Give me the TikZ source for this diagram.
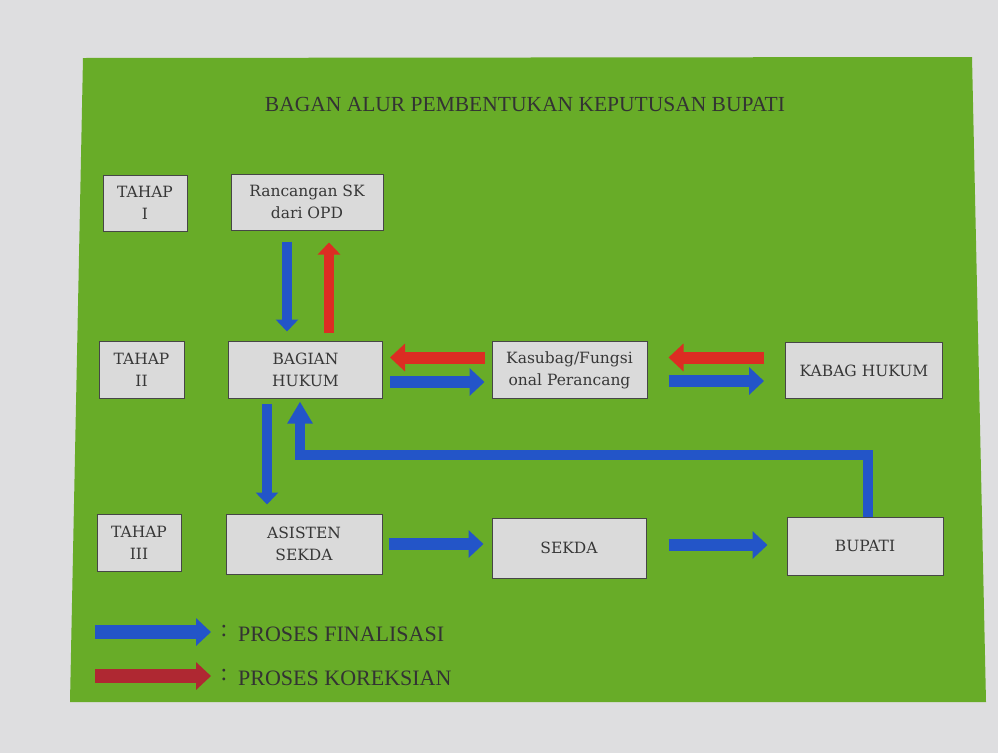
\documentclass[tikz,border=0pt]{standalone}
\usepackage{fontspec}
\setmainfont{Liberation Serif}
\newfontfamily\boxfont{DejaVu Serif}
\usetikzlibrary{arrows.meta,calc}
\definecolor{bgout}{RGB}{222,222,224}
\definecolor{slide}{RGB}{104,172,40}
\definecolor{boxfill}{RGB}{218,218,218}
\definecolor{boxline}{RGB}{70,70,70}
\definecolor{ablue}{RGB}{35,85,200}
\definecolor{ared}{RGB}{220,45,35}
\definecolor{lred}{RGB}{175,40,50}
\definecolor{txt}{RGB}{55,55,55}
\tikzset{
  box/.style={draw=boxline, line width=1pt, fill=boxfill, align=center, inner sep=2pt,
    font=\boxfont\fontsize{15.5}{22}\selectfont, text=txt},
  bigarrow/.style={line width=12pt, -{Triangle[width=27pt,length=15pt]}},
  thinarrow/.style={line width=10pt, -{Triangle[width=22pt,length=12pt]}},
}
\begin{document}
\begin{tikzpicture}[x=1pt,y=-1pt]
\useasboundingbox (0,0) rectangle (998,753);
\fill[bgout] (0,0) rectangle (998,753);
\fill[slide] (83,58) -- (972,57) -- (986,702) -- (70,702) -- cycle;

\node[font=\fontsize{21.5}{24}\selectfont, text=black!80] (title) at (525,104) {BAGAN ALUR PEMBENTUKAN KEPUTUSAN BUPATI};

\node[box, minimum width=84, minimum height=56] (t1) at (145,203) {TAHAP\\I};
\node[box, minimum width=152, minimum height=56] (rsk) at (307,202) {Rancangan SK\\dari OPD};
\node[box, minimum width=85, minimum height=57] (t2) at (141.5,370) {TAHAP\\II};
\node[box, minimum width=154, minimum height=57] (bh) at (305.5,369.5) {BAGIAN\\HUKUM};
\node[box, minimum width=155, minimum height=57] (ks) at (569.5,370) {Kasubag/Fungsi\\onal Perancang};
\node[box, minimum width=157, minimum height=56] (kb) at (864,370.5) {KABAG HUKUM};
\node[box, minimum width=84, minimum height=57] (t3) at (139,542.5) {TAHAP\\III};
\node[box, minimum width=156, minimum height=60] (as) at (304,544) {ASISTEN\\SEKDA};
\node[box, minimum width=154, minimum height=60] (sk) at (569,548) {SEKDA};
\node[box, minimum width=156, minimum height=58] (bp) at (865,546) {BUPATI};

% vertical arrows between Rancangan and Bagian Hukum
\draw[thinarrow, ablue, shorten <=11pt, shorten >=9pt] ([xshift=-20pt]rsk.south) -- ([xshift=-20pt]rsk.south |- bh.north);
\draw[thinarrow, ared, shorten <=8pt, shorten >=12pt] ([xshift=23.5pt]bh.north) -- ([xshift=23.5pt]bh.north |- rsk.south);

% horizontal arrows row II (yshift is in page direction: positive = up)
\draw[bigarrow, ared, shorten <=7pt, shorten >=7pt] ([yshift=12.5pt]ks.west) -- ([yshift=12.5pt]ks.west -| bh.east);
\draw[bigarrow, ablue, shorten <=7pt, shorten >=7pt] ([yshift=-12.5pt]bh.east) -- ([yshift=-12.5pt]bh.east -| ks.west);
\draw[bigarrow, ared, shorten <=21pt, shorten >=21pt] ([yshift=13pt]kb.west) -- ([yshift=13pt]kb.west -| ks.east);
\draw[bigarrow, ablue, shorten <=21pt, shorten >=21pt] ([yshift=-11pt]ks.east) -- ([yshift=-11pt]ks.east -| kb.west);

% down to Asisten
\draw[thinarrow, ablue, shorten <=5pt, shorten >=9pt] ([xshift=-38.5pt]bh.south) -- ([xshift=-38.5pt]bh.south |- as.north);

% return from Bupati to Bagian Hukum
\draw[ablue, line width=10pt, -{Triangle[width=24pt,length=22pt]}, shorten >=3pt]
  ([xshift=3pt]bp.north) -- ++(0,-62) -| ([xshift=-5.5pt]bh.south);

% row III arrows
\draw[bigarrow, ablue, shorten <=6pt, shorten >=8pt] (as.east) -- (as.east -| sk.west);
\draw[bigarrow, ablue, shorten <=22pt, shorten >=19pt] ([yshift=3pt]sk.east) -- ([yshift=3pt]sk.east -| bp.west);

% legend
\coordinate (l1a) at (95,632);
\coordinate (l1b) at (211,632);
\coordinate (l2a) at (95,676);
\coordinate (l2b) at (211,676);
\draw[bigarrow, ablue, line width=14pt] (l1a) -- (l1b);
\draw[bigarrow, lred, line width=14pt] (l2a) -- (l2b);
\node[font=\fontsize{24}{26}\selectfont, text=black!80] (c1) at (224,631) {:};
\node[font=\fontsize{24}{26}\selectfont, text=black!80] (c2) at (224,675) {:};
\node[anchor=west, font=\fontsize{22}{24}\selectfont, text=black!80, inner sep=0pt] (lg1) at (238,634) {PROSES FINALISASI};
\node[anchor=west, font=\fontsize{22}{24}\selectfont, text=black!80, inner sep=0pt] (lg2) at (238,678) {PROSES KOREKSIAN};
\end{tikzpicture}
\end{document}
